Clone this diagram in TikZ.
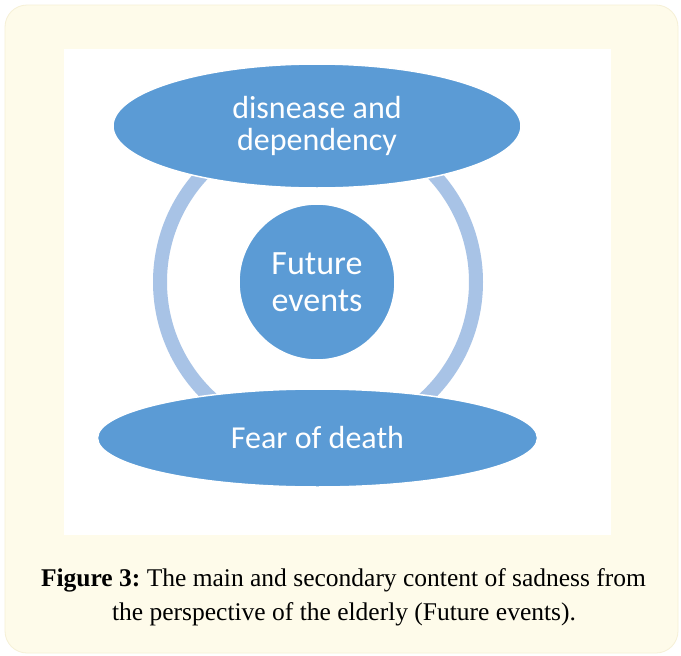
\documentclass[tikz,border=0pt]{standalone}
\usepackage{fontspec}
\setmainfont{Liberation Serif}
\newfontfamily\calib{Carlito}
\usetikzlibrary{shapes.geometric}
\definecolor{cream}{HTML}{FEFBEA}
\definecolor{creamedge}{HTML}{F6F0D6}
\definecolor{bluefill}{HTML}{5B9BD5}
\definecolor{ringblue}{HTML}{A8C3E6}
\tikzset{
  blob/.style={ellipse, fill=bluefill, draw=white, line width=1.5pt, inner sep=0pt, text=white, align=center},
  capline/.style={anchor=base, inner sep=0pt, font=\fontsize{25.5}{30}\selectfont}
}
\begin{document}
\begin{tikzpicture}[x=1pt,y=-1pt]
\useasboundingbox (0,0) rectangle (681,656);
\fill[white] (0,0) rectangle (681,656);
\draw[fill=cream, draw=creamedge, line width=0.8pt, rounded corners=22pt] (5,5) rectangle (678,653);
\fill[white] (64,49) rectangle (611,535);
\draw[ringblue, line width=14pt] (318,282) circle (158);
\node[blob, minimum width=408pt, minimum height=124pt, font=\calib\fontsize{32}{32}\selectfont] (top) at (317,126) {disnease and\\dependency};
\node[blob, circle, minimum size=156pt, font=\calib\fontsize{34}{37.5}\selectfont] (mid) at (317,282) {Future\\events};
\node[blob, minimum width=440pt, minimum height=98pt, font=\calib\fontsize{32}{32}\selectfont] (bot) at (317.5,438) {Fear of death};
\node[capline] (cap1) at (343.5,586) {\textbf{Figure 3:}~The main and secondary content of sadness from};
\node[capline] (cap2) at (344,620) {the perspective of the elderly (Future events).};
\end{tikzpicture}
\end{document}
